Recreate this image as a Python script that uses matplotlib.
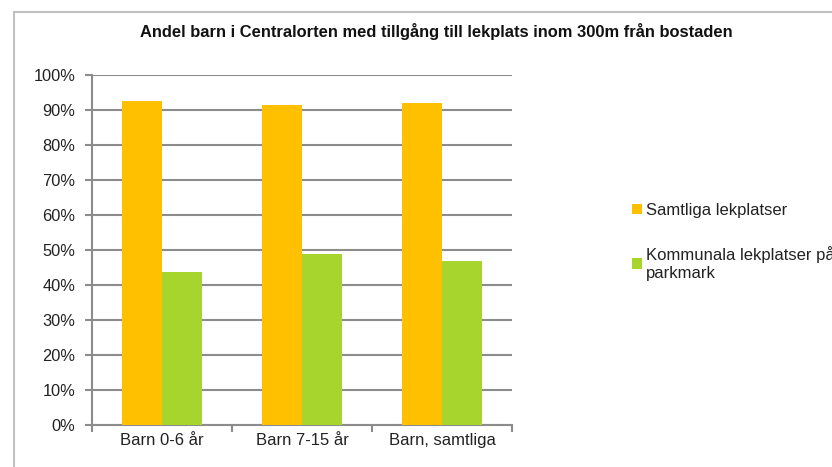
import matplotlib
matplotlib.use('Agg')
import matplotlib.pyplot as plt
import numpy as np
from matplotlib.patches import Rectangle

# Andel barn med lekplats inom 300 m
kategorier = ['Barn 0-6 år', 'Barn 7-15 år', 'Barn, samtliga']
samtliga = [0.927, 0.913, 0.920]
kommunala = [0.438, 0.489, 0.469]
serier = ['Samtliga lekplatser', 'Kommunala lekplatser på\nparkmark']
farger = ['#FFC000', '#A8D42E']
titel = 'Andel barn i Centralorten med tillgång till lekplats inom 300m från bostaden'

plt.rcParams['font.family'] = ['Liberation Sans', 'DejaVu Sans']

fig = plt.figure(figsize=(8.32, 4.67), dpi=100)
ax = fig.add_axes([92 / 832, 1 - 425 / 467, (512 - 92) / 832, (425 - 75) / 467])

# ram runt diagrammet
fig.patches.append(Rectangle((14 / 832, -0.1), 1.2, 1 - 12 / 467 + 0.1,
                             transform=fig.transFigure, fill=False,
                             edgecolor='#c0c0c0', linewidth=1.5))

x = np.arange(len(kategorier))
b = 0.286
ax.bar(x - b / 2, samtliga, b, color=farger[0], label=serier[0], zorder=3)
ax.bar(x + b / 2, kommunala, b, color=farger[1], label=serier[1], zorder=3)

ax.set_xlim(-0.5, 2.5)
ax.set_ylim(0, 1.0)
ax.set_yticks(np.arange(0, 1.01, 0.1))
ax.set_yticklabels([f'{int(round(v * 100))}%' for v in np.arange(0, 1.01, 0.1)],
                   fontsize=11.8, color='#222222')
ax.set_xticks([-0.5, 0.5, 1.5, 2.5])
ax.set_xticklabels([])
ax.set_xticks(x, minor=True)
ax.set_xticklabels(kategorier, minor=True, fontsize=12, color='#222222')
ax.tick_params(axis='x', which='minor', length=0, pad=6)
ax.tick_params(axis='x', which='major', length=5, color='#8c8c8c', width=1.5)
ax.tick_params(axis='y', length=5, color='#8c8c8c', width=1.5, pad=7)

ax.yaxis.grid(True, color='#8c8c8c', linewidth=1.5, zorder=0)
ax.set_axisbelow(True)
for s in ['top', 'right']:
    ax.spines[s].set_visible(False)
for s in ['left', 'bottom']:
    ax.spines[s].set_color('#8c8c8c')
    ax.spines[s].set_linewidth(1.5)

fig.text(436 / 832, 1 - 32 / 467, titel, ha='center', va='center',
         fontsize=11.9, fontweight='bold', color='#111111')

fig.legend(loc='upper left', bbox_to_anchor=(617 / 832, 1 - 188 / 467),
           frameon=False, fontsize=12, handlelength=0.6, handleheight=0.6,
           handletextpad=0.25, labelspacing=1.7, labelcolor='#222222')

fig.savefig('out.png', dpi=100)
